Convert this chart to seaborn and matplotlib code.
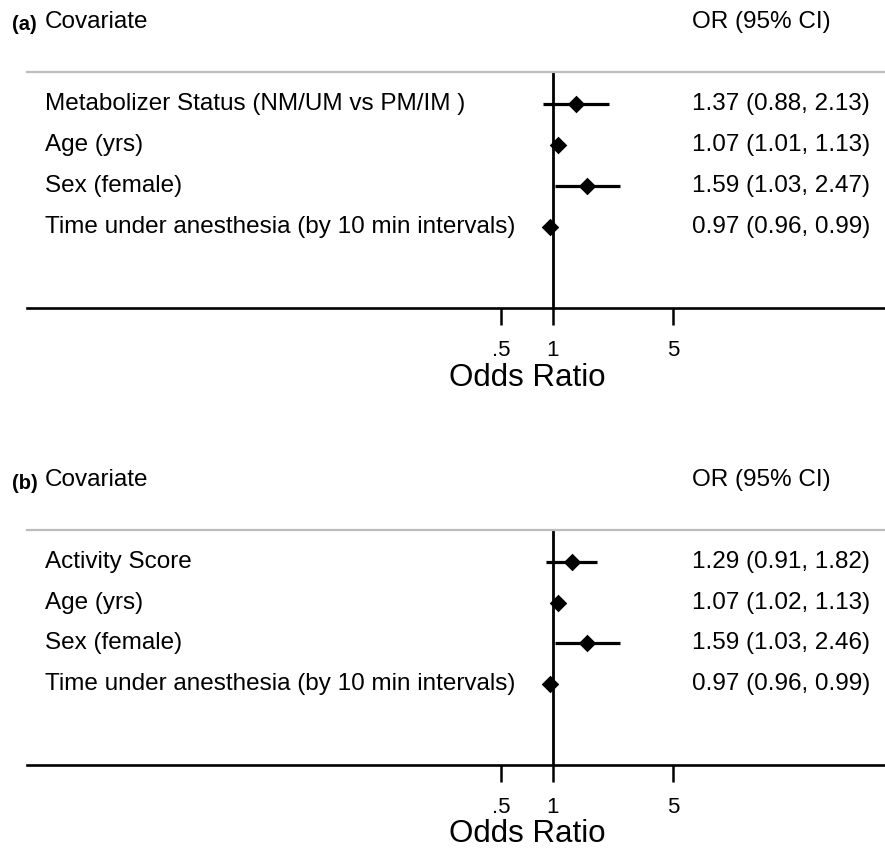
import matplotlib
matplotlib.use("Agg")
import matplotlib.pyplot as plt
import pandas as pd
import seaborn as sns


# panel (a): CYP2D6 metabolizer status model
labels_a = [
    "Metabolizer Status (NM/UM vs PM/IM )",
    "Age (yrs)",
    "Sex (female)",
    "Time under anesthesia (by 10 min intervals)",
]
or_a = [1.37, 1.07, 1.59, 0.97]
lo_a = [0.88, 1.01, 1.03, 0.96]
hi_a = [2.13, 1.13, 2.47, 0.99]

# panel (b): activity score model
labels_b = [
    "Activity Score",
    "Age (yrs)",
    "Sex (female)",
    "Time under anesthesia (by 10 min intervals)",
]
or_b = [1.29, 1.07, 1.59, 0.97]
lo_b = [0.91, 1.02, 1.03, 0.96]
hi_b = [1.82, 1.13, 2.46, 0.99]

tick_vals = [0.5, 1, 5]
tick_labels = [".5", "1", "5"]

W, H = 885, 849
FS = 17.5


def forest(ax, tag, labels, est, lo, hi):
    df = pd.DataFrame({"label": labels, "or": est, "lo": lo, "hi": hi})
    df["row"] = range(len(df))

    ax.hlines(df["row"], df["lo"], df["hi"], color="black", lw=2.3, zorder=3)
    sns.scatterplot(data=df, x="or", y="row", marker="D", color="black",
                    s=80, linewidth=0, zorder=4, ax=ax, legend=False)
    ax.axvline(1, color="black", lw=2.0, zorder=2)

    ax.set_xscale("log")
    ax.set_xlim(10 ** ((27 - 552.7) / 172.1), 10 ** ((885 - 552.7) / 172.1))
    ax.set_ylim(4.98, -0.78)
    ax.set_xticks(tick_vals)
    ax.set_xticklabels(tick_labels)
    ax.minorticks_off()
    ax.set_yticks([])
    ax.set_ylabel("")
    ax.tick_params(axis="x", direction="out", length=12, width=1.8,
                   labelsize=16, pad=11, bottom=True, colors="black")

    for side in ["left", "right"]:
        ax.spines[side].set_visible(False)
    ax.spines["bottom"].set_linewidth(1.9)
    ax.spines["bottom"].set_color("black")
    ax.spines["top"].set_linewidth(1.6)
    ax.spines["top"].set_color("#bdbdbd")

    ax.set_xlabel("Odds Ratio", fontsize=22.5, color="black")
    ax.xaxis.set_label_coords((527 - 27) / 858, -69.5 / 236)
    ax.xaxis.label.set_va("center")

    lx = (45 - 27) / 858
    rx = (692 - 27) / 858
    trans = matplotlib.transforms.blended_transform_factory(ax.transAxes, ax.transData)
    for _, r in df.iterrows():
        ax.text(lx, r["row"], r["label"], transform=trans, ha="left",
                va="center", fontsize=FS)
        ax.text(rx, r["row"], f"{r['or']:.2f} ({r['lo']:.2f}, {r['hi']:.2f})",
                transform=trans, ha="left", va="center", fontsize=FS)

    ax.text(lx, -2.0, "Covariate", transform=trans, ha="left", va="center",
            fontsize=FS, clip_on=False)
    ax.text(rx, -2.0, "OR (95% CI)", transform=trans, ha="left", va="center",
            fontsize=FS, clip_on=False)
    ax.text((12 - 27) / 858, -1.93, tag, transform=trans, ha="left",
            va="center", fontsize=14.5, fontweight="bold", clip_on=False)


sns.set_theme(style="white")
plt.rcParams["font.family"] = ["Liberation Sans", "DejaVu Sans"]
plt.rcParams["text.color"] = "black"

fig = plt.figure(figsize=(W / 100, H / 100), dpi=100)
ax_a = fig.add_axes([27 / W, (H - 308) / H, 858 / W, 236 / H])
ax_b = fig.add_axes([27 / W, (H - 765) / H, 858 / W, 235 / H])

forest(ax_a, "(a)", labels_a, or_a, lo_a, hi_a)
forest(ax_b, "(b)", labels_b, or_b, lo_b, hi_b)

fig.savefig("out.png", dpi=100, facecolor="white")
